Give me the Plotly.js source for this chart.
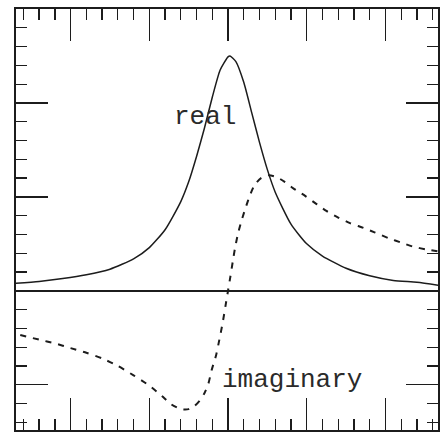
<!DOCTYPE html>
<html>
<head>
<meta charset="utf-8">
<script src="https://cdn.plot.ly/plotly-3.0.1.min.js"></script>
<style>
  html, body { margin: 0; padding: 0; background: #ffffff; }
  #chart { width: 443px; height: 432px; }
</style>
</head>
<body>
<div id="chart"></div>
<script>
// Real part: absorption-like peak
const realX = [-2.70, -2.40, -2.10, -1.80, -1.50, -1.20, -1.00, -0.80, -0.60, -0.50,
               -0.40, -0.30, -0.20, -0.10, 0.00, 0.025, 0.10, 0.20, 0.30, 0.40,
               0.50, 0.60, 0.80, 1.00, 1.20, 1.50, 1.80, 2.10, 2.40, 2.67];
const realY = [0.08, 0.10, 0.13, 0.17, 0.23, 0.34, 0.46, 0.65, 0.95, 1.16,
               1.43, 1.73, 2.06, 2.35, 2.49, 2.50, 2.44, 2.22, 1.90, 1.58,
               1.29, 1.05, 0.71, 0.50, 0.37, 0.24, 0.16, 0.11, 0.09, 0.06];

// Imaginary part: dispersion-like curve
const imagX = [-2.64, -2.40, -2.20, -2.00, -1.80, -1.60, -1.40, -1.20, -1.00, -0.84,
               -0.72, -0.60, -0.50, -0.43, -0.36, -0.30, -0.25, -0.21, -0.15, -0.11,
               -0.07, -0.03, 0.00, 0.03, 0.06, 0.09, 0.13, 0.18, 0.23, 0.28,
               0.34, 0.42, 0.52, 0.62, 0.72, 0.83, 0.98, 1.13, 1.25, 1.40,
               1.55, 1.72, 1.87, 2.04, 2.21, 2.35, 2.52, 2.67];
const imagY = [-0.47, -0.52, -0.56, -0.61, -0.66, -0.72, -0.80, -0.90, -1.01, -1.12,
               -1.21, -1.26, -1.26, -1.23, -1.17, -1.09, -0.99, -0.85, -0.68, -0.52,
               -0.35, -0.15, 0.00, 0.15, 0.31, 0.46, 0.62, 0.77, 0.90, 1.02,
               1.13, 1.20, 1.23, 1.21, 1.16, 1.09, 1.01, 0.92, 0.85, 0.78,
               0.72, 0.67, 0.62, 0.56, 0.51, 0.47, 0.44, 0.42];

// Curve labels
const labels = [
  {text: 'real', x: -0.71, y: 1.85},
  {text: 'imaginary', x: -0.10, y: -0.95}
];

const ink = '#1c1c1c';

const traces = [
  {
    x: realX, y: realY, type: 'scatter', mode: 'lines',
    line: {color: ink, width: 1.5, shape: 'spline', smoothing: 0.6},
    hoverinfo: 'skip'
  },
  {
    x: imagX, y: imagY, type: 'scatter', mode: 'lines',
    line: {color: ink, width: 2, dash: '6px,7px', shape: 'spline', smoothing: 0.6},
    hoverinfo: 'skip'
  }
];

const axisCommon = {
  showgrid: false,
  showticklabels: false,
  showline: true,
  linecolor: ink,
  linewidth: 1.6,
  mirror: 'ticks',
  ticks: 'inside',
  ticklen: 32,
  tickwidth: 1.5,
  tickcolor: ink,
  dtick: 1,
  tick0: 0,
  minor: {ticks: 'inside', ticklen: 11, tickwidth: 1.3, tickcolor: ink, dtick: 0.2, tick0: 0, showgrid: false}
};

const layout = {
  width: 443,
  height: 432,
  margin: {l: 16, r: 5, t: 9, b: 2, pad: 0},
  paper_bgcolor: '#ffffff',
  plot_bgcolor: '#ffffff',
  showlegend: false,
  xaxis: Object.assign({}, axisCommon, {range: [-2.694, 2.668], zeroline: false}),
  yaxis: Object.assign({}, axisCommon, {
    range: [-1.482, 3.0],
    zeroline: true, zerolinecolor: ink, zerolinewidth: 1.6
  }),
  annotations: labels.map(l => ({
    text: l.text, x: l.x, y: l.y, xref: 'x', yref: 'y',
    xanchor: 'left', yanchor: 'middle', showarrow: false,
    font: {family: 'Liberation Mono, Courier New, monospace', size: 26, color: '#2a2a2a'}
  }))
};

Plotly.newPlot('chart', traces, layout, {staticPlot: true, displayModeBar: false});
</script>
</body>
</html>
